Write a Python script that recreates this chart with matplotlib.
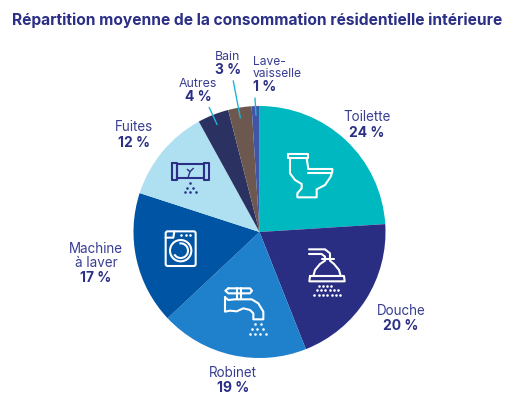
import numpy as np
import matplotlib
matplotlib.use('Agg')
import matplotlib.pyplot as plt
from matplotlib.patches import Circle, Arc, FancyBboxPatch

# ---------- Data ----------
categories = ['Toilette', 'Douche', 'Robinet', 'Machine\nà laver', 'Fuites', 'Autres', 'Bain', 'Lave-\nvaisselle']
shares = [24, 20, 19, 17, 12, 4, 3, 1]
colors = ['#00b8c0', '#2a2e82', '#1f80cc', '#0054a4', '#aee0f2', '#2b3160', '#6d5850', '#3f55a5']
share_labels = ['24 %', '20 %', '19 %', '17 %', '12 %', '4 %', '3 %', '1 %']
name_xy = [(367, 117), (401, 311), (233, 373), (96, 256), (134, 127), (198, 84), (228, 57), (253, 68)]
share_xy = [(367, 133), (401, 326), (233, 388), (96, 278), (134, 143), (198, 97), (228, 70), (253, 87)]
name_sizes = [9.7, 9.7, 9.7, 9.7, 9.7, 8.9, 8.9, 8.7]
label_align = ['center', 'center', 'center', 'center', 'center', 'center', 'center', 'left']

NAVY = '#2b2f85'
W, H = 532, 418
CX, CY, R = 259.5, 232, 126

plt.rcParams['font.family'] = ['Inter', 'DejaVu Sans']

fig = plt.figure(figsize=(W / 100, H / 100), dpi=100)
ax = fig.add_axes([0, 0, 1, 1])


def py(y):
    return H - y


ax.pie(shares, colors=colors, startangle=90, counterclock=False,
       center=(CX, py(CY)), radius=R, frame=True)
ax.set_xlim(0, W)
ax.set_ylim(0, H)
ax.set_aspect('equal')
ax.axis('off')

ax.text(12, py(20), 'Répartition moyenne de la consommation résidentielle intérieure',
        fontsize=11.2, fontweight='bold', color=NAVY, va='center', ha='left')

# ---------- Labels ----------
for name, share, (x, y), (sx, sy), fs, ha in zip(categories, share_labels, name_xy, share_xy, name_sizes, label_align):
    ax.text(x, py(y), name, fontsize=fs, color='#3a3f92', ha=ha, va='center', linespacing=1.0,
            multialignment=ha)
    ax.text(sx, py(sy), share, fontsize=10, fontweight='bold', color=NAVY, ha=ha, va='center')

# leader lines
for (x0, y0, x1, y1) in [(209.3, 107.7, 217, 124.3), (233.3, 81, 240.3, 117.7), (255, 98.3, 256, 115)]:
    ax.plot([x0, x1], [py(y0), py(y1)], color='#1fb6d6', lw=1.0, zorder=5)


def line(pts, ox, oy, color='white', lw=1.5, closed=False):
    pts = np.array(pts, dtype=float)
    if closed:
        pts = np.vstack([pts, pts[0]])
    ax.plot(ox + pts[:, 0] / 3, py(oy + pts[:, 1] / 3), color=color, lw=lw, zorder=6,
            solid_joinstyle='round', solid_capstyle='round')


def dots(pts, ox, oy, color='white', s=3.5):
    pts = np.array(pts, dtype=float)
    ax.scatter(ox + pts[:, 0] / 3, py(oy + pts[:, 1] / 3), s=s, color=color, lw=0, zorder=6)


# toilet
line([(263, 42), (325, 42), (325, 55), (263, 55)], 200, 140, closed=True)
line([(270, 55), (270, 100), (285, 120), (305, 132), (305, 145), (292, 160), (292, 172), (350, 172),
      (350, 148), (375, 135), (392, 110), (397, 95), (397, 87), (325, 87), (320, 55)], 200, 140)
line([(325, 100), (392, 100)], 200, 140)

# shower
line([(327, 328), (375, 328), (390, 340), (390, 358)], 200, 140)
line([(327, 342), (365, 342), (375, 350), (375, 358)], 200, 140)
line([(365, 358), (402, 358)], 200, 140)
line([(340, 408), (345, 390), (360, 372), (375, 362)], 200, 140)
line([(422, 408), (417, 390), (402, 372), (390, 362)], 200, 140)
line([(330, 408), (432, 408), (434, 424), (328, 424)], 200, 140, closed=True)
dots([(x, 437) for x in range(358, 406, 12)] + [(x, 450) for x in range(350, 418, 13)]
     + [(x, 464) for x in range(343, 422, 13)], 200, 140)

# tap
line([(85, 445), (150, 445), (156, 452), (150, 460), (85, 460), (76, 452)], 200, 140, closed=True)
line([(112, 445), (112, 478)], 200, 140)
line([(122, 445), (122, 478)], 200, 140)
line([(75, 472), (85, 480), (105, 478), (155, 478), (175, 490), (190, 515), (190, 538), (160, 538),
      (160, 520), (150, 510), (130, 505), (110, 514), (90, 512), (75, 515)], 200, 140, closed=True)
dots([(165, 553), (182, 553), (157, 566), (172, 566), (188, 566),
      (150, 582), (165, 582), (180, 582), (198, 582)], 200, 140)

# washing machine
ax.add_patch(FancyBboxPatch((130 + 107 / 3, py(140 + 378 / 3)), 90 / 3, 104 / 3,
                            boxstyle='round,pad=0,rounding_size=2', fill=False, ec='white', lw=1.5, zorder=6))
line([(107, 293), (130, 293), (133, 274)], 130, 140)
dots([(153, 285), (167, 285), (181, 285)], 130, 140)
wx, wy = 130 + 152 / 3, py(140 + 332 / 3)
ax.add_patch(Circle((wx, wy), 32 / 3, fill=False, ec='white', lw=1.5, zorder=6))
ax.add_patch(Arc((wx, wy), 44 / 3, 44 / 3, theta1=-150, theta2=100, ec='white', lw=1.5, zorder=6))

# leaking pipe
line([(140, 72), (222, 72), (222, 115), (140, 115)], 130, 140, color=NAVY, closed=True)
line([(125, 68), (140, 68), (140, 120), (125, 120)], 130, 140, color=NAVY, closed=True)
line([(222, 68), (237, 68), (237, 120), (222, 120)], 130, 140, color=NAVY, closed=True)
line([(175, 110), (180, 95), (172, 88)], 130, 140, color=NAVY, lw=1.0)
line([(180, 95), (190, 85)], 130, 140, color=NAVY, lw=1.0)
dots([(181, 128), (172, 143), (190, 143), (165, 157), (181, 157), (197, 157)], 130, 140, color=NAVY)

fig.savefig('out.png', dpi=100, facecolor='white')
